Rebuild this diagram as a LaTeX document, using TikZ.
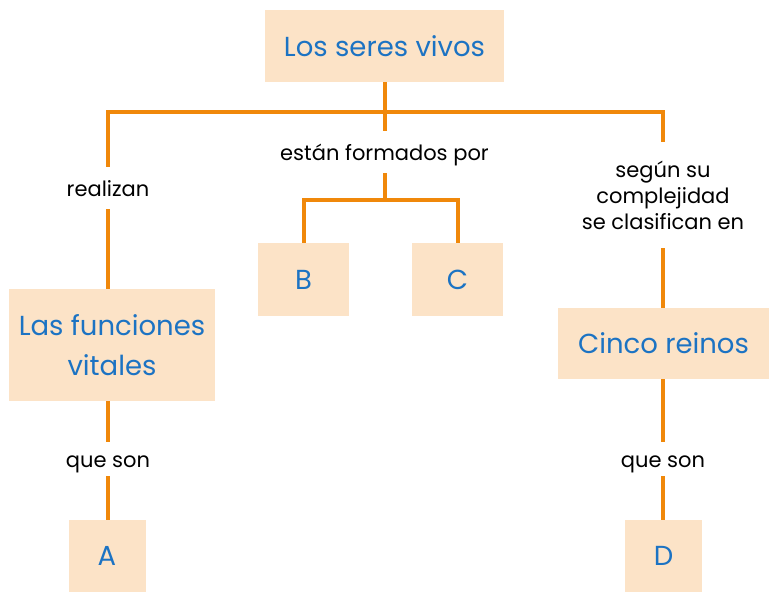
\documentclass[tikz,border=0pt]{standalone}
\usepackage{fontspec}
\setmainfont{Poppins}
\usetikzlibrary{positioning}
\definecolor{naranja}{RGB}{240,136,10}
\definecolor{crema}{RGB}{252,227,199}
\definecolor{azul}{RGB}{28,115,195}
\tikzset{
  caja/.style={fill=crema, text=azul, inner sep=0pt, align=center,
    font=\fontsize{27.5}{40}\selectfont},
  enlace/.style={inner sep=0pt, align=center, text=black,
    font=\fontsize{21}{26}\selectfont},
  corto/.style={enlace, text height=16pt, text depth=0pt},
  linea/.style={draw=naranja, line width=4pt, line cap=butt, line join=miter}
}
\begin{document}
\begin{tikzpicture}[x=1pt, y=-1pt]
		%%%%% START %%%%%
		\useasboundingbox (0, 0) rectangle (778, 599);
		
		\node[caja, minimum width=239, minimum height=72] (seres) at (384.5, 46) {Los seres vivos};
		
		\node[corto, minimum height=42] (realizan) at (108, 188) {realizan};
		\node[corto, minimum height=42] (formados) at (384.5, 152) {están formados por};
		\node[enlace, minimum height=106] (clasifican) at (663, 195) {según su\\complejidad\\se clasifican en};
		
		\node[caja, minimum width=206, minimum height=112] (funciones) at (112, 345) {Las funciones\\vitales};
		\node[caja, minimum width=91, minimum height=73] (B) at (303.5, 279.5) {B};
		\node[caja, minimum width=91, minimum height=73] (C) at (457.5, 279.5) {C};
		\node[caja, minimum width=211, minimum height=71] (reinos) at (663.5, 343.5) {Cinco reinos};
		
		\node[corto, minimum height=34] (sonA) at (108, 459) {que son};
		\node[corto, minimum height=34] (sonD) at (663, 459) {que son};
		
		\node[caja, minimum width=77, minimum height=72] (A) at (107, 556) {A};
		\node[caja, minimum width=77, minimum height=72] (D) at (663.5, 556) {D};
		
		\coordinate (cruce) at (384.5, 112);
		\coordinate (reparto) at (384.5, 200);
		
		\draw[linea] (seres.south) -- (formados.north);
		\draw[linea] (realizan.north) |- (cruce) -| (clasifican.north);
		\draw[linea] (formados.south) -- (reparto);
		\draw[linea] (B.north) |- (reparto) -| (C.north);
		
		\draw[linea] (realizan.south) -- (realizan.south |- funciones.north);
		\draw[linea] (clasifican.south) -- (clasifican.south |- reinos.north);
		\draw[linea] (sonA.north |- funciones.south) -- (sonA.north);
		\draw[linea] (sonA.south) -- (sonA.south |- A.north);
		\draw[linea] (sonD.north |- reinos.south) -- (sonD.north);
		\draw[linea] (sonD.south) -- (sonD.south |- D.north);
		
		%%%%% END %%%%%
\end{tikzpicture}
\end{document}
